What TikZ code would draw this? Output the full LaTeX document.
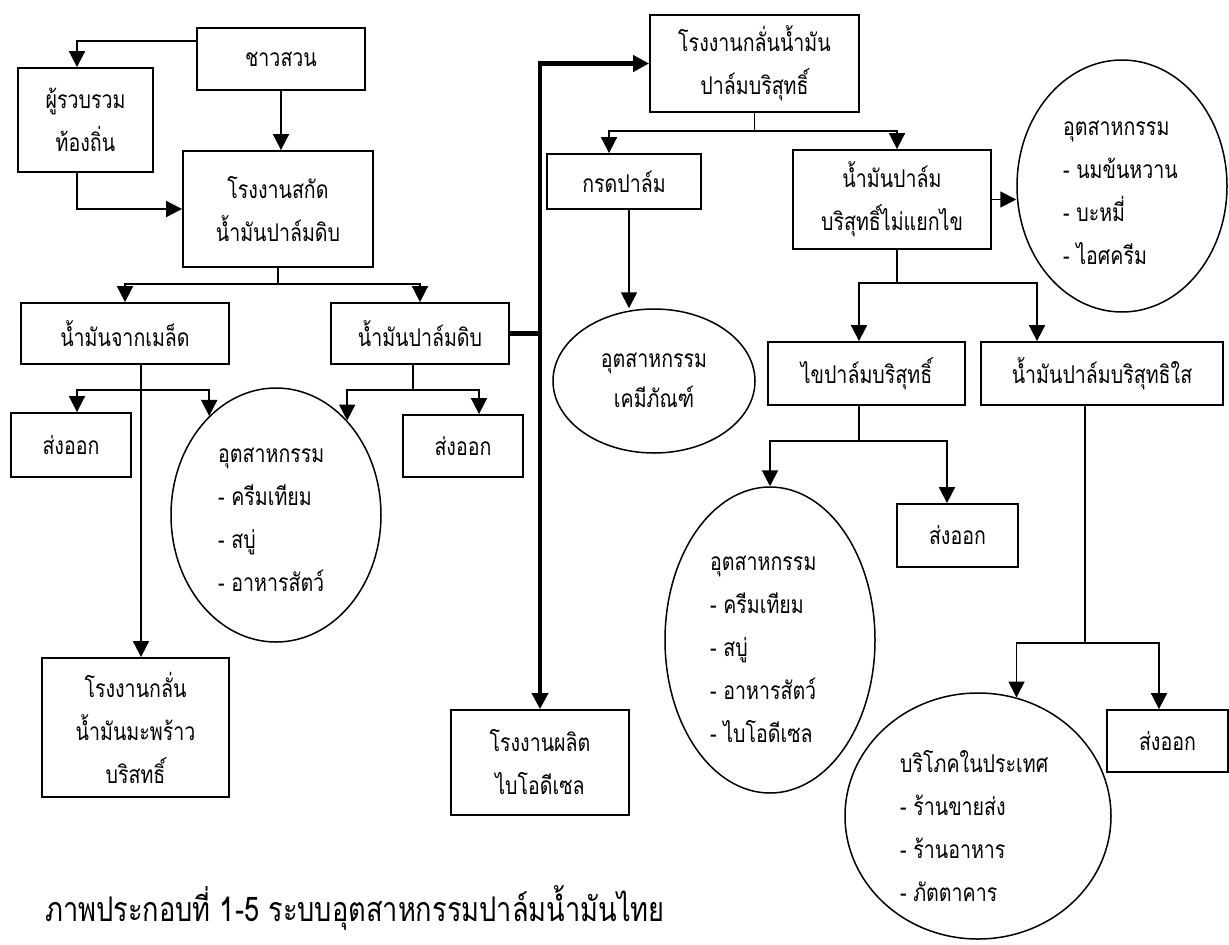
\documentclass[tikz,border=0pt]{standalone}
\usepackage{fontspec}
\newfontfamily\thai[Script=Thai,FakeStretch=0.8]{Loma}
\usetikzlibrary{shapes.geometric,arrows.meta}

\begin{document}
\begin{tikzpicture}[x=1pt,y=-1pt,
  wh/.style 2 args={minimum width=#1pt,minimum height=#2pt},
  box/.style={draw,line width=1.8pt,inner sep=0pt,align=center,
    font=\thai\fontsize{24.5}{43}\selectfont},
  oval/.style={draw,ellipse,line width=1.5pt,inner sep=0pt},
  listtxt/.style={align=left,anchor=west,inner sep=0pt,
    font=\thai\fontsize{24.5}{43}\selectfont},
  link/.style={line width=1.8pt},
  tip/.style={-{Triangle[width=16pt,length=16pt]}},
  arr/.style={link,tip},
  thk/.style={line width=4.5pt},
]
\useasboundingbox (0,0) rectangle (1229,945);

% ---------- boxes ----------
\node[box,wh={168}{62}]  (chao)      at (281,59)      {ชาวสวน};
\node[box,wh={135}{104}] (collector) at (85.5,120)    {ผู้รวบรวม\\ท้องถิ่น};
\node[box,wh={190}{116}] (extract)   at (278,209)     {โรงงานสกัด\\น้ำมันปาล์มดิบ};
\node[box,wh={208}{61}]  (seed)      at (125,333.5)   {น้ำมันจากเมล็ด};
\node[box,wh={178}{61}]  (crude)     at (420,333.5)   {น้ำมันปาล์มดิบ};
\node[box,wh={120}{64}]  (exp1)      at (71,445)      {ส่งออก};
\node[box,wh={120}{62}]  (exp2)      at (463,446)     {ส่งออก};
\node[box,wh={187}{139}] (coco)      at (135.5,727.5) {โรงงานกลั่น\\น้ำมันมะพร้าว\\บริสทธิ์};
\node[box,wh={178}{105}] (biodsl)    at (540,762.5)   {โรงงานผลิต\\ไบโอดีเซล};
\node[box,wh={209}{97}]  (refine)    at (754.5,63.5)  {โรงงานกลั่นน้ำมัน\\ปาล์มบริสุทธิ์};
\node[box,wh={154}{55}]  (acid)      at (624,181.5)   {กรดปาล์ม};
\node[box,wh={198}{99}]  (rbd)       at (892,199.5)   {น้ำมันปาล์ม\\บริสุทธิ์ไม่แยกไข};
\node[box,wh={197}{63}]  (stearin)   at (866.5,373.5) {ไขปาล์มบริสุทธิ์};
\node[box,wh={242}{63}]  (olein)     at (1102,373.5)  {น้ำมันปาล์มบริสุทธิใส};
\node[box,wh={121}{63}]  (exp3)      at (957.5,535.5) {ส่งออก};
\node[box,wh={121}{62}]  (exp4)      at (1167.5,741)  {ส่งออก};

% ---------- ovals and their texts ----------
\node[oval,wh={210}{254}] (ind1) at (276,515) {};
\node[listtxt] (ind1txt) at (218,520)
  {อุตสาหกรรม\\- ครีมเทียม\\- สบู่\\- อาหารสัตว์};

\node[oval,wh={202}{144}] (chem) at (654,381) {};
\node[align=center,inner sep=0pt,font=\thai\fontsize{24.5}{40}\selectfont]
  (chemtxt) at (654,380) {อุตสาหกรรม\\เคมีภัณฑ์};

\node[oval,wh={210}{252}] (ind2) at (1122,186) {};
\node[listtxt] (ind2txt) at (1063,192.5)
  {อุตสาหกรรม\\- นมข้นหวาน\\- บะหมี่\\- ไอศครีม};

\node[oval,wh={210}{306}] (bio) at (770,640) {};
\node[listtxt] (biotxt) at (710,649)
  {อุตสาหกรรม\\- ครีมเทียม\\- สบู่\\- อาหารสัตว์\\- ไบโอดีเซล};

\node[oval,wh={266}{246}] (dom) at (978,816) {};
\node[listtxt] (domtxt) at (900,826.5)
  {บริโภคในประเทศ\\- ร้านขายส่ง\\- ร้านอาหาร\\- ภัตตาคาร};

% ---------- caption ----------
\node[anchor=west,inner sep=0pt,font=\thai\fontsize{34}{36}\selectfont]
  (caption) at (45,908) {ภาพประกอบที่ 1-5 ระบบอุตสาหกรรมปาล์มน้ำมันไทย};

% ---------- connectors ----------
% farmers
\draw[arr] ([yshift=18pt]chao.west) -| ([xshift=-8.5pt]collector.north);
\draw[arr] ([xshift=-8.5pt]collector.south) |- (extract.west);
\draw[arr] (chao.south) -- (chao.south |- extract.north);

% extraction mill
\path (extract.south) ++(0,16) coordinate (s1);
\draw[link] (extract.south) -- (s1);
\draw[arr] (s1) -| (seed.north);
\draw[arr] (s1) -| (crude.north);

% kernel oil
\path ([xshift=16pt]seed.south) coordinate (s2);
\path (s2) ++(0,25) coordinate (b2);
\draw[arr] (s2) -- (s2 |- coco.north);
\draw[arr] (b2) -| ([xshift=6pt]exp1.north);
\draw[arr] (b2) -| (ind1.124);

% crude palm oil
\path ([xshift=-7pt]crude.south) coordinate (s3);
\path (s3) ++(0,25) coordinate (b3);
\draw[link] (s3) -- (b3);
\draw[arr] (b3) -| (ind1.53);
\draw[arr] (b3) -| ([xshift=16pt]exp2.north);

% main supply line
\draw[thk] (crude.east) -- (crude.east -| biodsl.north);
\draw[thk,{Triangle[width=16pt,length=16pt]}-{Triangle[width=16pt,length=16pt]}]
  (refine.west) -| (biodsl.north);

% refinery
\path (refine.south) ++(0,18) coordinate (s4);
\draw[link] (refine.south) -- (s4);
\draw[arr] (s4) -| ([xshift=-15pt]acid.north);
\draw[arr] (s4) -| ([xshift=5pt]rbd.north);
\draw[arr] ([xshift=5pt]acid.south) -- ([xshift=5pt]acid.south |- chem.north);
\draw[arr] (rbd.east) -- (rbd.east -| ind2.west);

% fractionation
\path ([xshift=5pt]rbd.south) coordinate (s5);
\path (s5) ++(0,33) coordinate (b5);
\draw[link] (s5) -- (b5);
\draw[arr] (b5) -| ([xshift=-7.5pt]stearin.north);
\draw[arr] (b5) -| ([xshift=-65pt]olein.north);

% stearin
\path ([xshift=-7.5pt]stearin.south) coordinate (s6);
\path (s6) ++(0,35) coordinate (b6);
\draw[link] (s6) -- (b6);
\draw[arr] (b6) -| (bio.north);
\draw[arr] (b6) -| ([xshift=-10.5pt]exp3.north);

% olein
\path ([xshift=-17pt]olein.south) coordinate (s7);
\path (s7) ++(0,237) coordinate (b7);
\draw[link] (s7) -- (b7);
\draw[arr] (b7) -| (dom.72);
\draw[arr] (b7) -| ([xshift=-8.5pt]exp4.north);
\end{tikzpicture}
\end{document}
